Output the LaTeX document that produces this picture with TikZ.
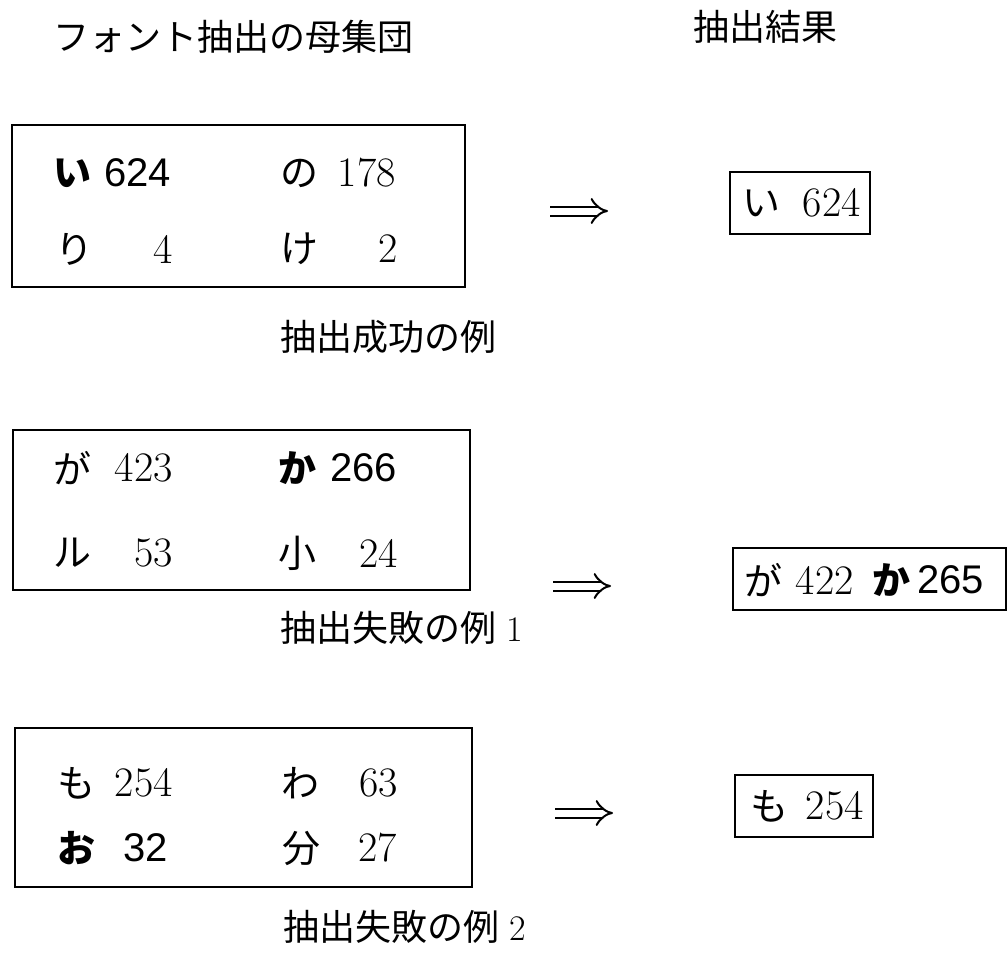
\documentclass[tikz,border=0pt]{standalone}
\usepackage{fontspec}
\usetikzlibrary{arrows.meta}
\newfontfamily\jp{Noto Sans CJK JP}
\newfontfamily\sfnum{Liberation Sans}
\tikzset{
  kana/.style={anchor=west, inner sep=0pt, font=\jp\fontsize{38}{44}\selectfont},
  kanab/.style={anchor=west, inner sep=0pt, font=\jp\bfseries\fontsize{38}{44}\selectfont},
  num/.style={anchor=east, inner sep=0pt, font=\rmfamily\fontsize{42}{48}\selectfont},
  numsf/.style={anchor=east, inner sep=0pt, font=\sfnum\fontsize{40}{46}\selectfont},
  ttl/.style={anchor=west, inner sep=0pt, font=\jp\fontsize{36}{40}\selectfont},
  implarrow/.style={line width=2pt, double distance=7pt, -{Implies[length=9pt]}},
  frame/.style={draw, line width=1.6pt, inner sep=0pt}
}
\begin{document}
\begin{tikzpicture}[x=1pt,y=-1pt]
\useasboundingbox (0,0) rectangle (1008,959);
% titles
\node[ttl] (t1) at (53,37) {フォント抽出の母集団};
\node[ttl] (t2) at (693,27) {抽出結果};
% box 1
\node[frame, minimum width=453pt, minimum height=162pt] (box1) at (238.5,206) {};
\node[kanab] (b1a) at (53,173) {い};
\node[numsf] (b1an) at (171,173) {624};
\node[kana] (b1b) at (280,173) {の};
\node[num] (b1bn) at (396,173) {178};
\node[kana] (b1c) at (55,249) {り};
\node[num] (b1cn) at (173,249) {4};
\node[kana] (b1d) at (280,249) {け};
\node[num] (b1dn) at (398,249) {2};
\coordinate (a1s) at (550,211);
\coordinate (a1e) at (608,211);
\draw[implarrow] (a1s) -- (a1e);
\node[frame, minimum width=140pt, minimum height=62pt] (r1) at (800,203) {};
\node[kana] (r1a) at (742,203) {い};
\node[num] (r1an) at (861,203) {624};
\node[ttl] (l1) at (280,337) {抽出成功の例};
% box 2
\node[frame, minimum width=457pt, minimum height=160pt] (box2) at (241.5,510) {};
\node[kana] (b2a) at (53,468) {が};
\node[num] (b2an) at (173,468) {423};
\node[kanab] (b2b) at (278,468) {か};
\node[numsf] (b2bn) at (397,468) {266};
\node[kana] (b2c) at (53,553) {ル};
\node[num] (b2cn) at (173,553) {53};
\node[kana] (b2d) at (278,553) {小};
\node[num] (b2dn) at (398,553) {24};
\coordinate (a2s) at (553,586);
\coordinate (a2e) at (611,586);
\draw[implarrow] (a2s) -- (a2e);
\node[frame, minimum width=273pt, minimum height=62pt] (r2) at (869.5,579) {};
\node[kana] (r2a) at (744,580) {が};
\node[num] (r2an) at (854,580) {422};
\node[kanab] (r2b) at (872,580) {か};
\node[numsf] (r2bn) at (984,580) {265};
\node[ttl] (l2) at (280,628) {抽出失敗の例\hspace{10pt}{\rmfamily 1}};
% box 3
\node[frame, minimum width=457pt, minimum height=159pt] (box3) at (243.5,807.5) {};
\node[kana] (b3a) at (57,783) {も};
\node[num] (b3an) at (173,783) {254};
\node[kana] (b3b) at (281,783) {わ};
\node[num] (b3bn) at (398,783) {63};
\node[kanab] (b3c) at (57,848) {お};
\node[numsf] (b3cn) at (168,848) {32};
\node[kana] (b3d) at (282,848) {分};
\node[num] (b3dn) at (397,848) {27};
\coordinate (a3s) at (555,813);
\coordinate (a3e) at (613,813);
\draw[implarrow] (a3s) -- (a3e);
\node[frame, minimum width=138pt, minimum height=62pt] (r3) at (804,806) {};
\node[kana] (r3a) at (750,806) {も};
\node[num] (r3an) at (864,806) {254};
\node[ttl] (l3) at (283,927) {抽出失敗の例\hspace{10pt}{\rmfamily 2}};
\end{tikzpicture}
\end{document}
